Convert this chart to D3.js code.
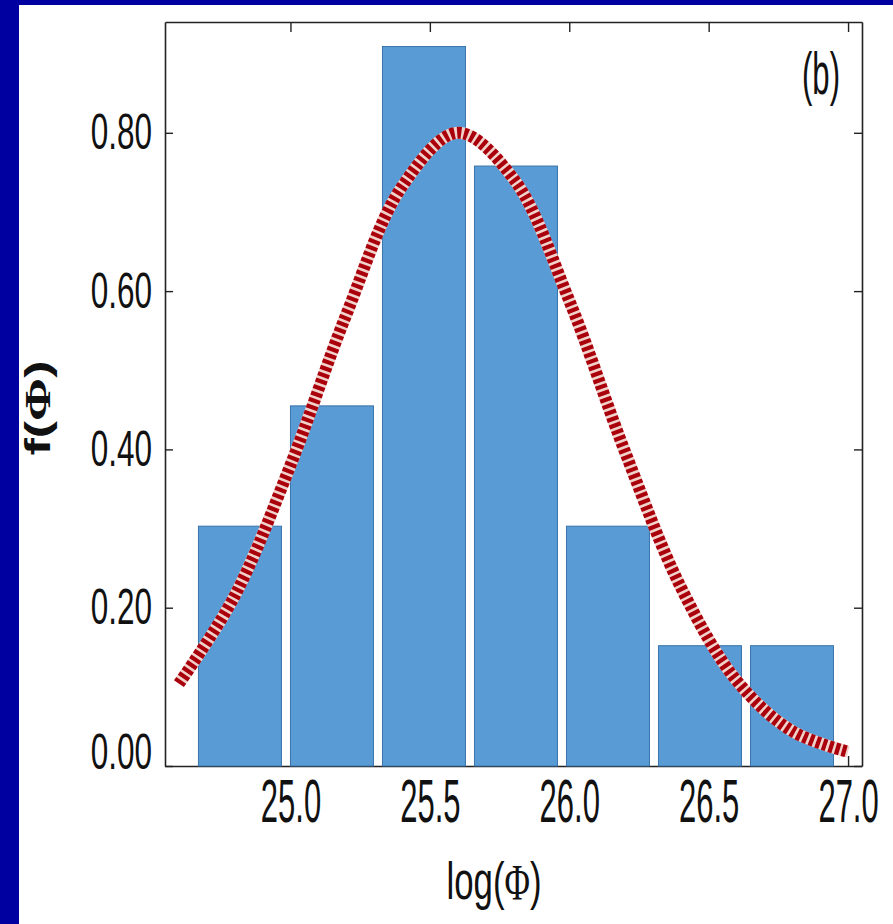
<!DOCTYPE html>
<html>
<head>
<meta charset="utf-8">
<script src="https://cdn.jsdelivr.net/npm/d3@7"></script>
<style>
  html, body { margin: 0; padding: 0; background: #fff; }
  svg { display: block; }
</style>
</head>
<body>
<div id="chart"></div>
<script>
// histogram bins (left edge of each bin) and heights
var binLeft = [24.67, 25.00, 25.33, 25.66, 25.99, 26.32, 26.65];
var binHeight = [0.303, 0.455, 0.909, 0.758, 0.303, 0.152, 0.152];
var binWidth = 0.33;

// fitted curve
var curveX = [24.60, 24.80, 25.00, 25.20, 25.40, 25.60, 25.80, 26.00, 26.20, 26.40, 26.60, 26.80, 27.00];
var curveY = [0.104, 0.215, 0.380, 0.570, 0.732, 0.800, 0.742, 0.588, 0.397, 0.226, 0.108, 0.044, 0.018];

var xTicks = [25.0, 25.5, 26.0, 26.5, 27.0];
var yTicks = [0.00, 0.20, 0.40, 0.60, 0.80];

var W = 893, H = 924;
var plotLeft = 165, plotRight = 862, plotTop = 22, plotBottom = 766;

var svg = d3.select("#chart")
  .append("svg")
    .attr("width", W)
    .attr("height", H);

// blue slide border
svg.append("rect").attr("width", W).attr("height", H).attr("fill", "#0000a0");
svg.append("rect").attr("x", 19).attr("y", 5).attr("width", W - 19).attr("height", H - 5).attr("fill", "#fff");

var x = d3.scaleLinear().domain([24.55, 27.05]).range([plotLeft, plotRight]);
var y = d3.scaleLinear().domain([0, 0.94]).range([plotBottom, plotTop]);

var tickFont = "'Liberation Sans', Arial, sans-serif";

// axes (ticks inside the frame)
var gBottom = svg.append("g")
  .attr("transform", "translate(0," + plotBottom + ")")
  .call(d3.axisBottom(x).tickValues(xTicks).tickSize(-10).tickSizeOuter(0)
    .tickPadding(12).tickFormat(d3.format(".1f")));

var gTop = svg.append("g")
  .attr("transform", "translate(0," + plotTop + ")")
  .call(d3.axisTop(x).tickValues(xTicks).tickSize(-10).tickSizeOuter(0).tickFormat(""));

var gLeft = svg.append("g")
  .attr("transform", "translate(" + plotLeft + ",0)")
  .call(d3.axisLeft(y).tickValues(yTicks).tickSize(-8).tickSizeOuter(0)
    .tickPadding(13).tickFormat(d3.format(".2f")));

var gRight = svg.append("g")
  .attr("transform", "translate(" + plotRight + ",0)")
  .call(d3.axisRight(y).tickValues(yTicks).tickSize(-8).tickSizeOuter(0).tickFormat(""));

[gBottom, gTop, gLeft, gRight].forEach(function(g) {
  g.select(".domain").attr("stroke", "#222").attr("stroke-width", 1.6);
  g.selectAll(".tick line").attr("stroke", "#222").attr("stroke-width", 1.4);
});

// condensed tick labels
gBottom.selectAll(".tick text")
  .attr("font-family", tickFont)
  .attr("font-size", 62)
  .attr("fill", "#111")
  .attr("transform", "scale(0.5,1)");

gLeft.selectAll(".tick text")
  .attr("font-family", tickFont)
  .attr("font-size", 50)
  .attr("fill", "#111")
  .attr("x", -13 / 0.63)
  .attr("transform", function(d) { return d === 0 ? "translate(0,-14) scale(0.63,1)" : "scale(0.63,1)"; });

// bars
svg.append("g")
  .selectAll("rect")
  .data(binLeft)
  .join("rect")
    .attr("x", d => x(d))
    .attr("y", (d, i) => y(binHeight[i]))
    .attr("width", d => x(d + binWidth) - x(d) - 9)
    .attr("height", (d, i) => y(0) - y(binHeight[i]))
    .attr("fill", "#589bd5")
    .attr("stroke", "#3a74aa")
    .attr("stroke-width", 1);

// fitted curve: pale line under red dashes
var pts = curveX.map((v, i) => [v, curveY[i]]);
var line = d3.line()
  .x(d => x(d[0]))
  .y(d => y(d[1]))
  .curve(d3.curveCatmullRom);

svg.append("path")
  .datum(pts)
  .attr("d", line)
  .attr("fill", "none")
  .attr("stroke", "#f1d2ca")
  .attr("stroke-width", 12);

svg.append("path")
  .datum(pts)
  .attr("d", line)
  .attr("fill", "none")
  .attr("stroke", "#aa000c")
  .attr("stroke-width", 12)
  .attr("stroke-dasharray", "4.2,2.6");

// helper: squeeze a text to a given length
function fitText(t, len) {
  var w = t.node().getComputedTextLength();
  return len / w;
}

// (b)
var tb = svg.append("text")
  .attr("font-family", tickFont)
  .attr("font-size", 60)
  .attr("fill", "#111")
  .text("(b)");
tb.attr("transform", "translate(802,94) scale(" + fitText(tb, 38) + ",1)");

// x label
var tx = svg.append("text")
  .attr("font-family", tickFont)
  .attr("font-size", 51)
  .attr("fill", "#111")
  .attr("text-anchor", "middle");
tx.append("tspan").text("log(");
tx.append("tspan").attr("font-family", "'Liberation Serif', 'Times New Roman', serif").text("Φ");
tx.append("tspan").text(")");
tx.attr("transform", "translate(494,899) scale(" + fitText(tx, 95) + ",1)");

// y label
var ty = svg.append("text")
  .attr("font-family", tickFont)
  .attr("font-weight", "bold")
  .attr("font-size", 36)
  .attr("fill", "#111")
  .attr("text-anchor", "middle");
ty.append("tspan").text("f(");
ty.append("tspan").attr("font-family", "'Liberation Serif', 'Times New Roman', serif").text("Φ");
ty.append("tspan").text(")");
ty.attr("transform", "translate(50,408) rotate(-90) scale(" + fitText(ty, 95) + ",1)");
</script>
</body>
</html>
